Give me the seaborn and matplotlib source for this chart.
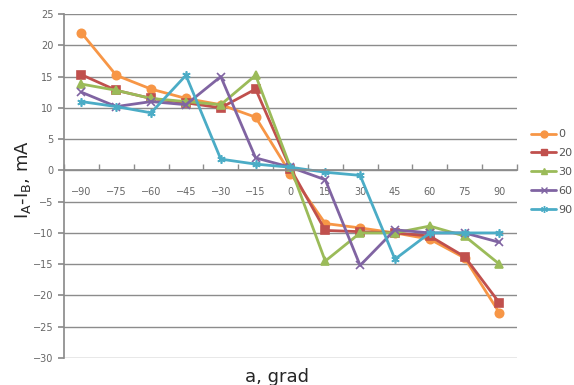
import numpy as np
import pandas as pd
import seaborn as sns
import matplotlib.pyplot as plt
from matplotlib.lines import Line2D

# angle values (x categories)
angles = [-90, -75, -60, -45, -30, -15, 0, 15, 30, 45, 60, 75, 90]
series_names = ["0", "20", "30", "60", "90"]

# IA-IB values for each series
s0 = [22.0, 15.2, 13.0, 11.5, 10.5, 8.5, -0.5, -8.5, -9.2, -10.0, -11.0, -14.0, -22.8]
s20 = [15.3, 12.8, 11.5, 10.8, 10.0, 13.0, 0.3, -9.6, -9.8, -10.0, -10.5, -13.8, -21.2]
s30 = [13.8, 12.8, 11.5, 11.0, 10.5, 15.2, 0.5, -14.5, -10.0, -10.0, -8.9, -10.5, -15.0]
s60 = [12.5, 10.2, 11.0, 10.5, 15.0, 2.0, 0.5, -1.5, -15.2, -9.5, -10.0, -10.0, -11.5]
s90 = [11.0, 10.2, 9.2, 15.2, 1.8, 1.0, 0.5, -0.3, -0.8, -14.2, -10.0, -10.0, -10.0]

y_ticks = [25, 20, 15, 10, 5, 0, -5, -10, -15, -20, -25, -30]

df = pd.DataFrame({
    "angle": angles * 5,
    "value": s0 + s20 + s30 + s60 + s90,
    "series": [n for n in series_names for _ in angles],
})

colors = {"0": "#F79646", "20": "#C0504D", "30": "#9BBB59", "60": "#8064A2", "90": "#4BACC6"}
markers = {"0": "o", "20": "s", "30": "^", "60": "x", "90": (6, 2, 0)}

sns.set_theme(style="white")
plt.rcParams['font.family'] = ['DejaVu Sans']

fig = plt.figure(figsize=(5.74, 3.85), dpi=100)
ax = fig.add_axes([0.1115, 0.0701, 0.789, 0.8935])

# draw each series separately (filled and line markers can't mix in one call)
for n in series_names:
    sub = df[df["series"] == n]
    sns.lineplot(data=sub, x="angle", y="value", color=colors[n], marker=markers[n],
                 linewidth=2, markersize=6, markeredgewidth=1.2,
                 markeredgecolor=colors[n], ax=ax, legend=False)

ax.set_xlim(-97.5, 97.5)
ax.set_ylim(-30, 25)
ax.set_yticks(y_ticks)
ax.set_xticks(angles)
ax.set_xticks([a + 7.5 for a in angles[:-1]] + [-97.5, 97.5], minor=True)
ax.yaxis.grid(True, color="#8c8c8c", linewidth=1)
ax.set_axisbelow(True)

ax.spines["top"].set_visible(False)
ax.spines["right"].set_visible(False)
ax.spines["left"].set_color("#8c8c8c")
ax.spines["bottom"].set_position(("data", 0))
ax.spines["bottom"].set_color("#8c8c8c")

ax.tick_params(axis="x", which="major", length=0, pad=12, labelsize=7, labelcolor="#666666")
ax.tick_params(axis="x", which="minor", length=4, direction="in", color="#8c8c8c", bottom=True)
ax.tick_params(axis="y", length=4, direction="out", color="#8c8c8c", labelsize=7, labelcolor="#666666", left=True)

ax.set_xlabel("a, grad", fontsize=13)
ax.xaxis.set_label_coords(0.47, -0.03)
ax.set_ylabel("I$_\\mathregular{A}$-I$_\\mathregular{B}$, mA", fontsize=13)
ax.yaxis.set_label_coords(-0.068, 0.52)

handles = [Line2D([], [], color=colors[n], marker=markers[n], linewidth=2,
                  markersize=5, markeredgecolor=colors[n]) for n in series_names]
ax.legend(handles, series_names, loc="center left", bbox_to_anchor=(1.01, 0.54),
          frameon=False, fontsize=8, handlelength=2.2, handletextpad=0.2,
          labelspacing=0.8, labelcolor="#555555")

fig.savefig("out.png", dpi=100)
